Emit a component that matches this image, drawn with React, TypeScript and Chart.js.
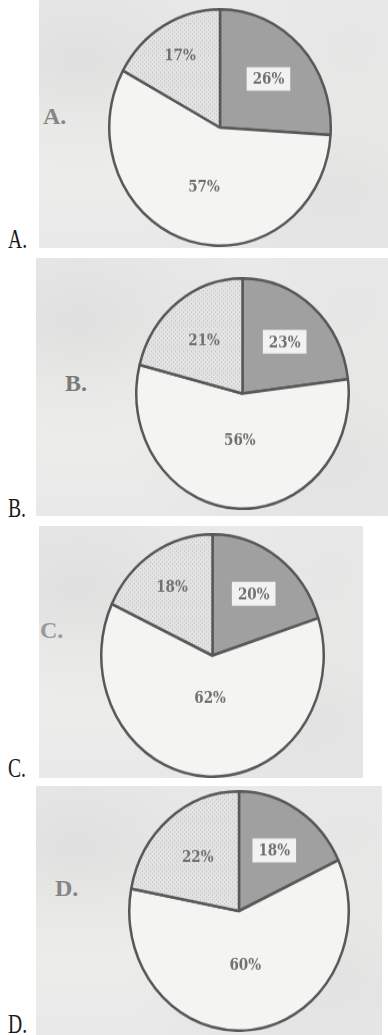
import React, { useEffect, useRef } from "react";
import { Chart, registerables } from "chart.js";

Chart.register(...registerables);

// ---- data ----
const sliceNames = ["dark", "white", "dotted"];
const valuesA = [26, 57, 17];
const valuesB = [23, 56, 21];
const valuesC = [20, 62, 18];
const valuesD = [18, 60, 22];
const optionLetters = ["A", "B", "C", "D"];

// ---- layout / style (not data) ----
const panels = [
  { values: valuesA, box: { left: 39, top: 0, w: 349, h: 248 }, pie: { left: 69, top: 8, size: 224, sy: 1.067 }, radii: [0.6, 0.52, 0.71], tag: { left: 4, top: 104, color: "#858585" }, outerTop: 225 },
  { values: valuesB, box: { left: 36, top: 258, w: 352, h: 258 }, pie: { left: 99, top: 19, size: 215, sy: 1.084 }, radii: [0.6, 0.4, 0.59], tag: { left: 29, top: 113, color: "#7a7a7a" }, outerTop: 494 },
  { values: valuesC, box: { left: 39, top: 526, w: 324, h: 252 }, pie: { left: 61, top: 7, size: 225, sy: 1.089 }, radii: [0.63, 0.35, 0.68], tag: { left: 1, top: 92, color: "#9a9a9a" }, outerTop: 754 },
  { values: valuesD, box: { left: 36, top: 786, w: 346, h: 249 }, pie: { left: 92, top: 4, size: 222, sy: 1.09 }, radii: [0.6, 0.45, 0.59], tag: { left: 19, top: 90, color: "#858585" }, outerTop: 1010 },
];

function makeDotPattern(): CanvasPattern | string {
  const c = document.createElement("canvas");
  c.width = 4;
  c.height = 4;
  const g = c.getContext("2d");
  if (!g) return "#dcdcdc";
  g.fillStyle = "#e2e2e2";
  g.fillRect(0, 0, 4, 4);
  g.fillStyle = "#c2c2c2";
  g.fillRect(0, 0, 1, 1);
  g.fillRect(2, 2, 1, 1);
  const p = g.createPattern(c, "repeat");
  return p || "#dcdcdc";
}

function makeLabelPlugin(radii: number[]) {
  return {
    id: "pctLabels",
    afterDatasetsDraw(chart: any) {
      const ctx = chart.ctx;
      const meta = chart.getDatasetMeta(0);
      const data = chart.data.datasets[0].data as number[];
      meta.data.forEach((arc: any, i: number) => {
        const p = arc.getProps(["x", "y", "startAngle", "endAngle", "outerRadius"], true);
        const mid = (p.startAngle + p.endAngle) / 2;
        const r = p.outerRadius * radii[i];
        const px = p.x + Math.cos(mid) * r;
        const py = p.y + Math.sin(mid) * r;
        const text = data[i] + "%";
        ctx.save();
        ctx.font = 'bold 15px "DejaVu Serif Condensed", "DejaVu Serif", serif';
        ctx.textAlign = "center";
        ctx.textBaseline = "middle";
        if (i === 0) {
          const w = ctx.measureText(text).width + 12;
          ctx.fillStyle = "#f2f2f2";
          ctx.fillRect(px - w / 2, py - 11, w, 22);
        }
        ctx.fillStyle = "#707070";
        ctx.fillText(text, px, py + 1);
        ctx.restore();
      });
    },
  };
}

function PieCanvas({ values, size, sy, left, top, radii }: any) {
  const ref = useRef<HTMLCanvasElement>(null);
  useEffect(() => {
    if (!ref.current) return;
    const chart = new Chart(ref.current, {
      type: "pie",
      data: {
        labels: sliceNames,
        datasets: [
          {
            data: values,
            backgroundColor: ["#a0a0a0", "#f4f4f2", makeDotPattern()],
            borderColor: "#585858",
            borderWidth: 2.5,
          },
        ],
      },
      options: {
        responsive: false,
        animation: false,
        layout: { padding: 0 },
        plugins: { legend: { display: false }, tooltip: { enabled: false } },
      },
      plugins: [makeLabelPlugin(radii)],
    } as any);
    return () => chart.destroy();
  }, []);
  return (
    <canvas
      ref={ref}
      width={size}
      height={size}
      style={{
        position: "absolute",
        left,
        top,
        width: size,
        height: size,
        transform: `scaleY(${sy})`,
        transformOrigin: "0 0",
      }}
    />
  );
}

export default function App() {
  return (
    <div style={{ position: "absolute", left: 0, top: 0, width: 388, height: 1035, overflow: "hidden", background: "#ffffff" }}>
      {panels.map((pn, k) => (
        <React.Fragment key={k}>
          <div
            style={{
              position: "absolute",
              left: 8,
              top: pn.outerTop,
              fontFamily: '"Liberation Serif", serif',
              fontSize: 28,
              lineHeight: "28px",
              color: "#1a1a1a",
              transform: "scaleX(0.7)",
              transformOrigin: "0 0",
              whiteSpace: "nowrap",
            }}
          >
            {optionLetters[k]}.
          </div>
          <div
            style={{
              position: "absolute",
              left: pn.box.left,
              top: pn.box.top,
              width: pn.box.w,
              height: pn.box.h,
              overflow: "hidden",
              background:
                "radial-gradient(ellipse at 12% 25%, rgba(210,210,210,0.5), rgba(210,210,210,0) 45%)," +
                "radial-gradient(ellipse at 85% 75%, rgba(215,215,215,0.45), rgba(215,215,215,0) 50%)," +
                "radial-gradient(ellipse at 90% 20%, rgba(220,220,220,0.4), rgba(220,220,220,0) 40%)," +
                "linear-gradient(180deg, #ebebeb, #efefed 50%, #e9e9e9)",
            }}
          >
            <div
              style={{
                position: "absolute",
                left: pn.tag.left,
                top: pn.tag.top,
                fontFamily: '"Liberation Serif", serif',
                fontWeight: "bold",
                fontSize: 24,
                lineHeight: "24px",
                color: pn.tag.color,
              }}
            >
              {optionLetters[k]}.
            </div>
            <PieCanvas values={pn.values} size={pn.pie.size} sy={pn.pie.sy} left={pn.pie.left} top={pn.pie.top} radii={pn.radii} />
          </div>
        </React.Fragment>
      ))}
    </div>
  );
}
